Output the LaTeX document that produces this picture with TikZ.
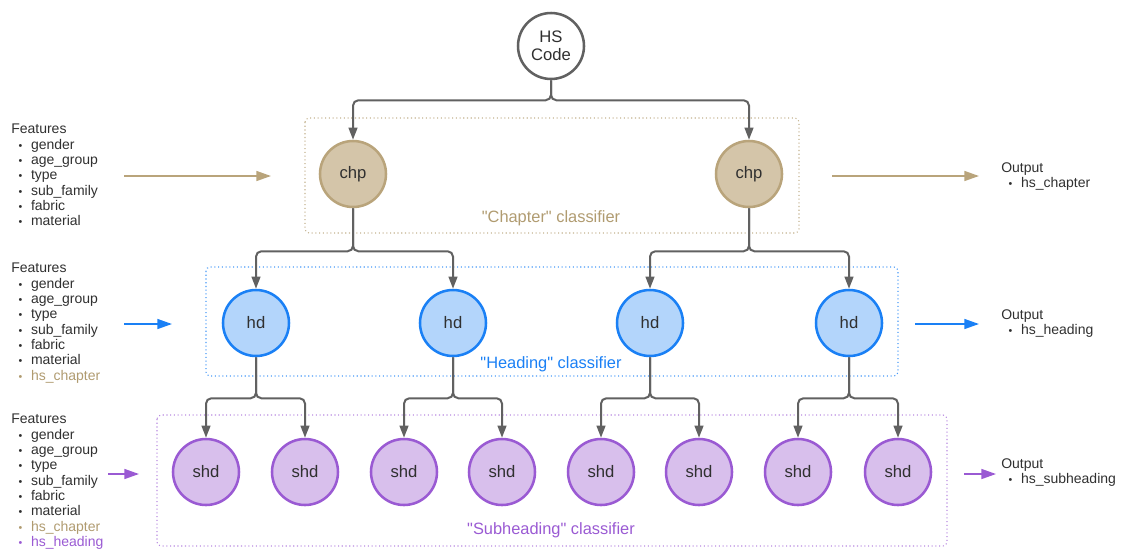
\documentclass[tikz,border=0pt]{standalone}
\usepackage{fontspec}
\setmainfont{Liberation Sans}[Ligatures=TeXOff]
\usetikzlibrary{arrows.meta}

\definecolor{linegray}{HTML}{616161}
\definecolor{txtgray}{HTML}{303030}
\definecolor{chpfill}{HTML}{D4C5A9}
\definecolor{chpdraw}{HTML}{B9A47B}
\definecolor{chptext}{HTML}{B09B70}
\definecolor{hdfill}{HTML}{B3D5FB}
\definecolor{hddraw}{HTML}{1A80F5}
\definecolor{shdfill}{HTML}{D8BFEC}
\definecolor{shddraw}{HTML}{9A5AD3}

\newcommand{\fitem}[1]{\hspace*{5.5pt}{\footnotesize\textbullet}\hspace{6.5pt}#1}

\tikzset{
    clsnode/.style={circle, line width=1.9pt, minimum size=49.5pt, inner sep=0pt,
        text=txtgray, font=\fontsize{12.5}{14}\selectfont},
    featlist/.style={anchor=north west, inner sep=0pt, align=left, text=txtgray,
        font=\fontsize{10.5}{11.5}\selectfont},
    clsbox/.style={dotted, line width=0.8pt, rounded corners=3pt},
    clslabel/.style={font=\fontsize{12.3}{14}\selectfont},
    conn/.style={draw=linegray, line width=1.5pt, rounded corners=4pt,
        -{Triangle[length=9pt,width=6.5pt]}},
    flow/.style={line width=1.1pt, -{Triangle[length=11pt,width=7.5pt]}}
}

\begin{document}
\begin{tikzpicture}[x=0.75pt, y=-0.75pt]
\useasboundingbox (0,0) rectangle (1121,551);

% classifier boxes
\draw[clsbox, draw=chpdraw!85] (305,118) rectangle (799,233);
\draw[clsbox, draw=hddraw!80] (206,267) rectangle (898,376);
\draw[clsbox, draw=shddraw!70] (157,415) rectangle (947,546);

\node[clslabel, text=chptext] (lchp) at (551,218) {"Chapter" classifier};
\node[clslabel, text=hddraw] (lhd) at (551,364) {"Heading" classifier};
\node[clslabel, text=shddraw] (lshd) at (551,530) {"Subheading" classifier};

\begin{scope}[every node/.style={clsnode}]
    \node (hs) at (551, 46) [draw=linegray, fill=white, align=center,
        font=\fontsize{12.5}{13.5}\selectfont] {HS\\Code};

    \node (c1) at (353, 174) [draw=chpdraw, fill=chpfill] {chp};
    \node (c2) at (749, 174) [draw=chpdraw, fill=chpfill] {chp};

    \node (h1) at (256, 323) [draw=hddraw, fill=hdfill] {hd};
    \node (h2) at (453, 323) [draw=hddraw, fill=hdfill] {hd};
    \node (h3) at (650, 323) [draw=hddraw, fill=hdfill] {hd};
    \node (h4) at (849, 323) [draw=hddraw, fill=hdfill] {hd};

    \node (s1) at (206, 472) [draw=shddraw, fill=shdfill] {shd};
    \node (s2) at (305, 472) [draw=shddraw, fill=shdfill] {shd};
    \node (s3) at (404, 472) [draw=shddraw, fill=shdfill] {shd};
    \node (s4) at (502, 472) [draw=shddraw, fill=shdfill] {shd};
    \node (s5) at (601, 472) [draw=shddraw, fill=shdfill] {shd};
    \node (s6) at (699, 472) [draw=shddraw, fill=shdfill] {shd};
    \node (s7) at (798, 472) [draw=shddraw, fill=shdfill] {shd};
    \node (s8) at (898, 472) [draw=shddraw, fill=shdfill] {shd};
\end{scope}

% tree connectors
\draw[conn] (hs.south) -- ++(0,20) -| (c1.north);
\draw[conn] (hs.south) -- ++(0,20) -| (c2.north);

\draw[conn] (c1.south) -- ++(0,43) -| (h1.north);
\draw[conn] (c1.south) -- ++(0,43) -| (h2.north);
\draw[conn] (c2.south) -- ++(0,43) -| (h3.north);
\draw[conn] (c2.south) -- ++(0,43) -| (h4.north);

\draw[conn] (h1.south) -- ++(0,41) -| (s1.north);
\draw[conn] (h1.south) -- ++(0,41) -| (s2.north);
\draw[conn] (h2.south) -- ++(0,41) -| (s3.north);
\draw[conn] (h2.south) -- ++(0,41) -| (s4.north);
\draw[conn] (h3.south) -- ++(0,41) -| (s5.north);
\draw[conn] (h3.south) -- ++(0,41) -| (s6.north);
\draw[conn] (h4.south) -- ++(0,41) -| (s7.north);
\draw[conn] (h4.south) -- ++(0,41) -| (s8.north);

% inputs
\node[featlist] (feat1) at (11,124) {Features\\\fitem{gender}\\\fitem{age\_group}\\
    \fitem{type}\\\fitem{sub\_family}\\\fitem{fabric}\\\fitem{material}};
\node[featlist] (feat2) at (11,263) {Features\\\fitem{gender}\\\fitem{age\_group}\\
    \fitem{type}\\\fitem{sub\_family}\\\fitem{fabric}\\\fitem{material}\\
    \textcolor{chptext}{\fitem{hs\_chapter}}};
\node[featlist] (feat3) at (11,414) {Features\\\fitem{gender}\\\fitem{age\_group}\\
    \fitem{type}\\\fitem{sub\_family}\\\fitem{fabric}\\\fitem{material}\\
    \textcolor{chptext}{\fitem{hs\_chapter}}\\\textcolor{shddraw}{\fitem{hs\_heading}}};

% outputs
\node[featlist] (out1) at (1001,162) {Output\\\fitem{hs\_chapter}};
\node[featlist] (out2) at (1001,309) {Output\\\fitem{hs\_heading}};
\node[featlist] (out3) at (1001,458) {Output\\\fitem{hs\_subheading}};

\coordinate (in1a) at (124,176);  \coordinate (in1b) at (271,176);
\coordinate (in2a) at (124,324);  \coordinate (in2b) at (172,324);
\coordinate (in3a) at (108,474);  \coordinate (in3b) at (139,474);
\coordinate (ou1a) at (832,176);  \coordinate (ou1b) at (979,176);
\coordinate (ou2a) at (915,324);  \coordinate (ou2b) at (979,324);
\coordinate (ou3a) at (964,474);  \coordinate (ou3b) at (996,474);

\draw[flow, draw=chpdraw, fill=chpdraw] (in1a) -- (in1b);
\draw[flow, draw=hddraw, fill=hddraw] (in2a) -- (in2b);
\draw[flow, draw=shddraw, fill=shddraw] (in3a) -- (in3b);
\draw[flow, draw=chpdraw, fill=chpdraw] (ou1a) -- (ou1b);
\draw[flow, draw=hddraw, fill=hddraw] (ou2a) -- (ou2b);
\draw[flow, draw=shddraw, fill=shddraw] (ou3a) -- (ou3b);

\end{tikzpicture}
\end{document}
